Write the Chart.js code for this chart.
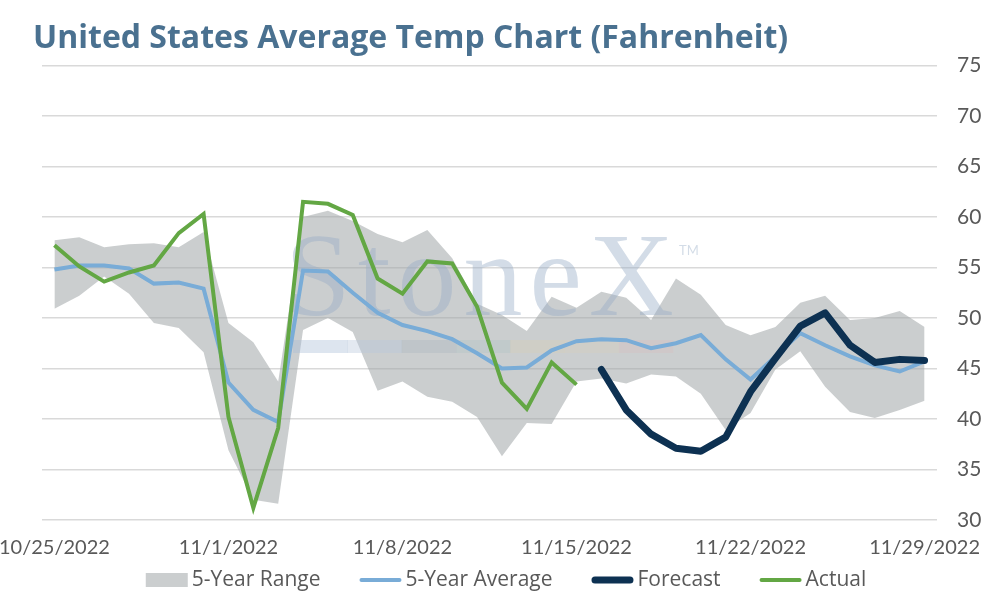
<!DOCTYPE html>
<html>
<head>
<meta charset="utf-8">
<script src="https://cdn.jsdelivr.net/npm/chart.js@4.4.1/dist/chart.umd.min.js"></script>
<style>
  html, body { margin: 0; padding: 0; background: #fff; }
  #wrap { width: 994px; height: 600px; }
</style>
</head>
<body>
<div id="wrap"><canvas id="tempChart" width="994" height="600"></canvas></div>
<script>
/* US average temperature — 5-year range / average, actual and forecast */

const dates = [
  '10/25/2022','10/26/2022','10/27/2022','10/28/2022','10/29/2022','10/30/2022','10/31/2022',
  '11/1/2022','11/2/2022','11/3/2022','11/4/2022','11/5/2022','11/6/2022','11/7/2022',
  '11/8/2022','11/9/2022','11/10/2022','11/11/2022','11/12/2022','11/13/2022','11/14/2022',
  '11/15/2022','11/16/2022','11/17/2022','11/18/2022','11/19/2022','11/20/2022','11/21/2022',
  '11/22/2022','11/23/2022','11/24/2022','11/25/2022','11/26/2022','11/27/2022','11/28/2022',
  '11/29/2022'
];

const rangeLow  = [50.9,52.2,54.1,52.4,49.5,49.0,46.6,36.9,32.0,31.6,48.8,50.0,48.6,42.8,
                   43.7,42.2,41.7,40.2,36.3,39.6,39.5,43.7,44.0,43.5,44.4,44.2,42.5,38.9,
                   40.6,44.9,46.7,43.2,40.7,40.1,40.9,41.8];
const rangeHigh = [57.7,58.0,57.0,57.3,57.4,57.0,58.5,49.5,47.6,43.7,60.0,60.6,59.6,58.3,
                   57.5,58.7,55.9,51.4,50.3,48.7,52.1,51.0,52.6,52.0,49.8,53.9,52.3,49.3,
                   48.3,49.1,51.5,52.2,49.8,50.0,50.7,49.1];
const avg5yr    = [54.8,55.2,55.2,54.9,53.4,53.5,52.9,43.6,40.9,39.7,54.7,54.6,52.5,50.5,
                   49.3,48.7,47.9,46.5,45.0,45.1,46.8,47.7,47.9,47.8,47.0,47.5,48.3,45.9,
                   43.9,46.2,48.5,47.3,46.2,45.3,44.7,45.7];
const actual    = [57.2,55.1,53.6,54.5,55.2,58.4,60.3,40.2,31.2,39.1,61.5,61.3,60.2,53.9,
                   52.4,55.6,55.4,51.1,43.6,41.0,45.6,43.4,null,null,null,null,null,null,
                   null,null,null,null,null,null,null,null];
const forecast  = [null,null,null,null,null,null,null,null,null,null,null,null,null,null,
                   null,null,null,null,null,null,null,null,44.9,40.9,38.5,37.1,36.8,38.2,
                   42.7,46.0,49.2,50.5,47.3,45.6,45.9,45.8];

const BAND = 'rgba(160,166,168,0.55)';
const BLUE = '#79acd7';
const NAVY = '#0d3152';
const GREEN = '#63a744';
const TEXT = '#595959';

// faint logo behind the lines
const watermark = {
  id: 'watermark',
  beforeDatasetsDraw(chart) {
    const ctx = chart.ctx;
    ctx.save();
    ctx.fillStyle = 'rgba(150,172,198,0.42)';
    ctx.font = '118px "Liberation Serif", serif';
    ctx.letterSpacing = '7px';
    ctx.textBaseline = 'alphabetic';
    ctx.fillText('StoneX', 285, 315);
    ctx.letterSpacing = '0px';
    ctx.font = '13px Lato, sans-serif';
    ctx.fillText('TM', 679, 255);
    const segs = ['rgba(170,190,215,0.4)', 'rgba(185,200,220,0.4)', 'rgba(170,180,190,0.35)',
                  'rgba(175,195,195,0.35)', 'rgba(215,205,180,0.35)', 'rgba(215,205,185,0.35)',
                  'rgba(215,190,190,0.35)'];
    const w = (673 - 293) / segs.length;
    segs.forEach((c, i) => { ctx.fillStyle = c; ctx.fillRect(293 + i * w, 340, w + 0.5, 13); });
    ctx.restore();
  }
};

// legend drawn by hand so the swatches and spacing match Excel
const legendItems = [
  { text: '5-Year Range', kind: 'box', color: BAND },
  { text: '5-Year Average', kind: 'line', color: BLUE, width: 4 },
  { text: 'Forecast', kind: 'line', color: NAVY, width: 7 },
  { text: 'Actual', kind: 'line', color: GREEN, width: 4 }
];
const bottomLegend = {
  id: 'bottomLegend',
  afterDraw(chart) {
    const ctx = chart.ctx;
    const sw = 42, gap = 4, between = 39, y = 580;
    ctx.save();
    ctx.font = '21px "Open Sans", sans-serif';
    ctx.textBaseline = 'middle';
    const widths = legendItems.map(it => sw + gap + ctx.measureText(it.text).width);
    const total = widths.reduce((a, b) => a + b, 0) + between * (legendItems.length - 1);
    let x = chart.width / 2 + 9 - total / 2;
    legendItems.forEach((it, i) => {
      if (it.kind === 'box') {
        ctx.fillStyle = it.color;
        ctx.fillRect(x, y - 7, sw, 14);
      } else {
        ctx.strokeStyle = it.color;
        ctx.lineWidth = it.width;
        ctx.lineCap = 'round';
        ctx.beginPath();
        ctx.moveTo(x + it.width / 2, y);
        ctx.lineTo(x + sw - it.width / 2, y);
        ctx.stroke();
      }
      ctx.fillStyle = TEXT;
      ctx.fillText(it.text, x + sw + gap, y);
      x += widths[i] + between;
    });
    ctx.restore();
  }
};

new Chart(document.getElementById('tempChart'), {
  type: 'line',
  data: {
    labels: dates,
    datasets: [
      { label: 'low', data: rangeLow, borderWidth: 0, pointRadius: 0, fill: false, order: 5 },
      { label: '5-Year Range', data: rangeHigh, borderWidth: 0, pointRadius: 0,
        backgroundColor: BAND, fill: '-1', order: 4 },
      { label: '5-Year Average', data: avg5yr, borderColor: BLUE, borderWidth: 4,
        pointRadius: 0, tension: 0, order: 3 },
      { label: 'Actual', data: actual, borderColor: GREEN, borderWidth: 4,
        pointRadius: 0, tension: 0, order: 2 },
      { label: 'Forecast', data: forecast, borderColor: NAVY, borderWidth: 7,
        pointRadius: 0, tension: 0, borderCapStyle: 'round', borderJoinStyle: 'round', order: 1 }
    ]
  },
  options: {
    responsive: false,
    animation: false,
    layout: { padding: { left: 33, right: 11, top: 0, bottom: 24 } },
    plugins: {
      legend: { display: false },
      tooltip: { enabled: false },
      filler: { drawTime: 'beforeDatasetsDraw' },
      title: {
        display: true,
        text: 'United States Average Temp Chart (Fahrenheit)',
        align: 'start',
        color: '#4a7190',
        font: { family: 'Open Sans', size: 32, weight: 'bold' },
        padding: { top: 20, bottom: 7 }
      }
    },
    scales: {
      x: {
        offset: true,
        grid: { display: false, drawTicks: false },
        border: { display: false },
        afterFit(scale) { scale.paddingLeft = 42; scale.paddingRight = 0; },
        ticks: {
          autoSkip: false,
          maxRotation: 0,
          padding: 16,
          color: TEXT,
          font: { family: 'Lato', size: 20 },
          callback: function(val, i) { return i % 7 === 0 ? dates[i] : ''; }
        }
      },
      y: {
        position: 'right',
        min: 30,
        max: 75,
        grid: { color: '#d9d9d9', lineWidth: 1.5, drawTicks: false },
        border: { display: false },
        afterFit(scale) { scale.width = 46; },
        ticks: {
          stepSize: 5,
          padding: 20,
          color: TEXT,
          font: { family: 'Lato', size: 21 }
        }
      }
    }
  },
  plugins: [watermark, bottomLegend]
});
</script>
</body>
</html>
